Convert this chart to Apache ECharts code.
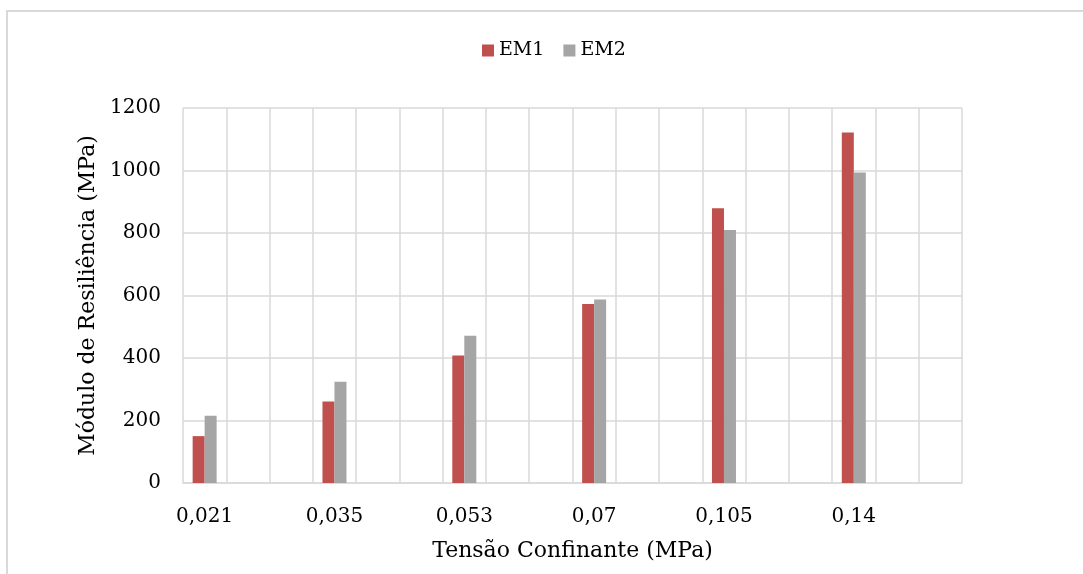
<!DOCTYPE html>
<html>
<head>
<meta charset="utf-8">
<script src="https://cdn.jsdelivr.net/npm/echarts@6/dist/echarts.min.js"></script>
<style>html,body{margin:0;padding:0;background:#fff}#c{width:1083px;height:574px}</style>
</head>
<body>
<div id="c"></div>
<script>
const categories = ['0,021', '0,035', '0,053', '0,07', '0,105', '0,14'];
const em1 = [150, 261, 408, 573, 879, 1122];
const em2 = [215, 324, 471, 587, 810, 994];
const yTicks = [0, 200, 400, 600, 800, 1000, 1200];
const slotsPerCategory = 3;

const slots = [];
const s1 = [], s2 = [];
categories.forEach((c, i) => {
  for (let k = 0; k < slotsPerCategory; k++) {
    slots.push(k === 0 ? c : '\u200b'.repeat(i * slotsPerCategory + k + 1));
    s1.push(k === 0 ? em1[i] : '-');
    s2.push(k === 0 ? em2[i] : '-');
  }
});

const font = 'DejaVu Serif';
const chart = echarts.init(document.getElementById('c'));
chart.setOption({
  animation: false,
  backgroundColor: '#fff',
  graphic: [{
    type: 'rect', shape: { x: 7, y: 11, width: 1300, height: 800 },
    style: { fill: 'none', stroke: '#d9d9d9', lineWidth: 2 }, silent: true, z: -1
  }],
  legend: {
    left: 477, top: 36, itemWidth: 12, itemHeight: 12, itemGap: 19,
    icon: 'rect',
    textStyle: { fontFamily: font, fontSize: 19, color: '#000' },
    data: ['EM1', 'EM2']
  },
  grid: { left: 183, right: 121, top: 108, bottom: 91 },
  xAxis: {
    type: 'category', data: slots,
    name: 'Tensão Confinante (MPa)', nameLocation: 'middle', nameGap: 57,
    nameTextStyle: { fontFamily: font, fontSize: 22, color: '#000' },
    axisLine: { lineStyle: { color: '#d9d9d9', width: 1.5 } },
    axisTick: { show: false },
    axisLabel: { interval: 0, margin: 24, fontFamily: font, fontSize: 20, color: '#000',
      formatter: v => (v.indexOf('\u200b') === 0 ? '' : v) },
    splitLine: { show: true, interval: 0, lineStyle: { color: '#d9d9d9', width: 1.5 } }
  },
  yAxis: {
    type: 'value', min: yTicks[0], max: yTicks[yTicks.length - 1], interval: 200,
    name: 'Módulo de Resiliência (MPa)', nameLocation: 'middle', nameGap: 83,
    nameTextStyle: { fontFamily: font, fontSize: 22, color: '#000' },
    axisLine: { show: false }, axisTick: { show: false },
    axisLabel: { margin: 22, fontFamily: font, fontSize: 20, color: '#000', formatter: v => String(v) },
    splitLine: { lineStyle: { color: '#d9d9d9', width: 1.5 } }
  },
  series: [
    { name: 'EM1', type: 'bar', data: s1, barWidth: 12, barGap: '0%', itemStyle: { color: '#c0504d' } },
    { name: 'EM2', type: 'bar', data: s2, barWidth: 12, barGap: '0%', itemStyle: { color: '#a5a5a5' } }
  ]
});
</script>
</body>
</html>
